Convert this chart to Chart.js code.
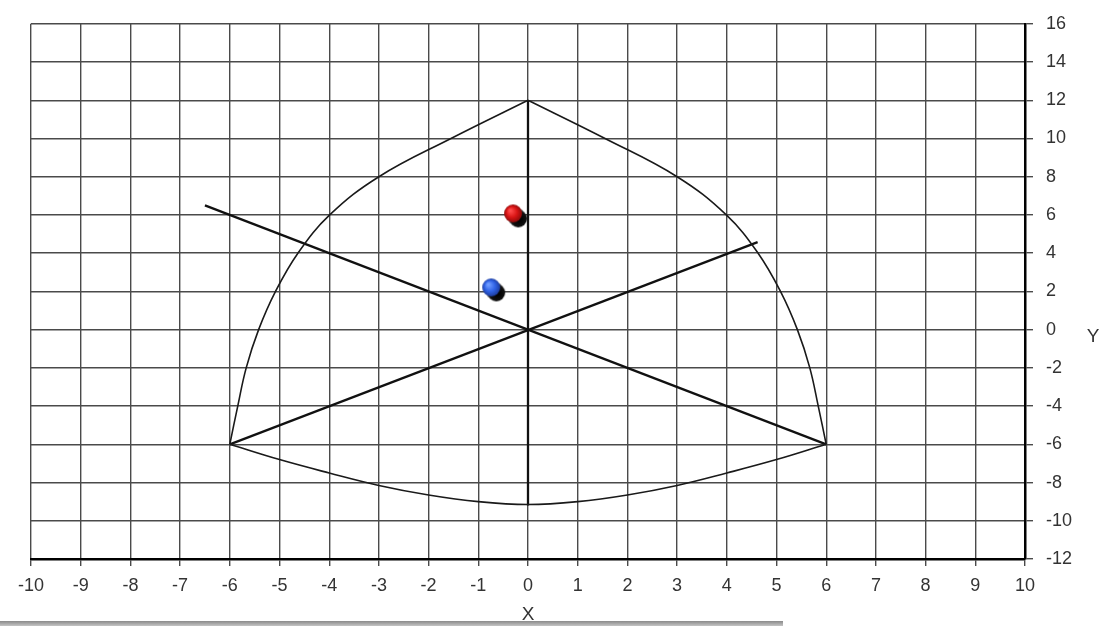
<!DOCTYPE html>
<html><head><meta charset="utf-8">
<script src="https://cdn.jsdelivr.net/npm/chart.js@4.4.1/dist/chart.umd.min.js"></script>
<style>
html,body{margin:0;padding:0;background:#fff;}
#wrap{position:relative;width:1101px;height:626px;overflow:hidden;}
#bar{position:absolute;left:0;top:621px;width:783px;height:5px;background:linear-gradient(#8a8a8a,#c4c4c4);}
</style></head><body>
<div id="wrap"><canvas id="c" width="1101" height="626"></canvas><div id="bar"></div></div>
<script>
// ---- data ----
const xAxisRange = [-10, 10];
const yAxisRange = [-12, 16];
const xTickStep = 1;
const yTickStep = 2;
const xTitle = 'X';
const yTitle = 'Y';

const rightArc = [{x:0,y:12},{x:1.55,y:10},{x:3.0,y:8},{x:3.99,y:6},{x:4.63,y:4},{x:5.08,y:2},{x:5.42,y:0},{x:5.67,y:-2},{x:5.84,y:-4},{x:6,y:-6}];
const leftArc = [{x:-6,y:-6},{x:-5.84,y:-4},{x:-5.67,y:-2},{x:-5.42,y:0},{x:-5.08,y:2},{x:-4.63,y:4},{x:-3.99,y:6},{x:-3.0,y:8},{x:-1.55,y:10},{x:0,y:12}];
const bottomArc = [{x:-6,y:-6},{x:-5,y:-6.8},{x:-4,y:-7.5},{x:-3,y:-8.15},{x:-2,y:-8.65},{x:-1,y:-9.0},{x:0,y:-9.15},{x:1,y:-9.0},{x:2,y:-8.65},{x:3,y:-8.15},{x:4,y:-7.5},{x:5,y:-6.8},{x:6,y:-6}];
const verticalLine = [{x:0,y:12},{x:0,y:-9.2}];
const diagonalDown = [{x:-6.5,y:6.5},{x:6,y:-6}];
const diagonalUp = [{x:-6,y:-6},{x:4.62,y:4.58}];
const redPoint = [{x:-0.30,y:6.08}];
const bluePoint = [{x:-0.74,y:2.21}];

// ---- ball images (shaded sphere with drop shadow) ----
function makeBall(light, mid, dark){
  const r = 9, off = 6, size = 2*(r+off+2);
  const cv = document.createElement('canvas');
  cv.width = size; cv.height = size;
  const g = cv.getContext('2d');
  const c = size/2;
  const sg = g.createRadialGradient(c+off, c+off, 1, c+off, c+off, r);
  sg.addColorStop(0, '#000');
  sg.addColorStop(0.8, '#111');
  sg.addColorStop(1, 'rgba(30,30,30,0.6)');
  g.fillStyle = sg;
  g.beginPath(); g.arc(c+off-1, c+off-1, r, 0, Math.PI*2); g.fill();
  g.beginPath(); g.arc(c+off/2, c+off/2, r, 0, Math.PI*2); g.fill();
  const bg = g.createRadialGradient(c-3, c-3, 1, c, c, r);
  bg.addColorStop(0, light);
  bg.addColorStop(0.55, mid);
  bg.addColorStop(1, dark);
  g.fillStyle = bg;
  g.beginPath(); g.arc(c, c, r, 0, Math.PI*2); g.fill();
  return cv;
}
const redBall = makeBall('#ff4a4a', '#d81414', '#8c0a0a');
const blueBall = makeBall('#6f9bff', '#2f62e6', '#1d3c9c');

const tickFont = {family: '"Liberation Sans", Arial, sans-serif', size: 18};
const tickColor = '#333';
const gridColor = '#4a4a4a';

const yTitlePlugin = {
  id: 'yTitle',
  afterDraw(chart){
    const ctx = chart.ctx, ys = chart.scales.y;
    ctx.save();
    ctx.font = '19px "Liberation Sans", Arial, sans-serif';
    ctx.fillStyle = tickColor;
    ctx.textAlign = 'center';
    ctx.textBaseline = 'middle';
    ctx.fillText(yTitle, ys.right - 8, ys.getPixelForValue(0) + 7);
    ctx.restore();
  }
};

function lineSet(data, width, color, tension){
  return {data, showLine: true, borderColor: color, borderWidth: width, pointRadius: 0, fill: false,
    tension: tension, order: 5};
}

new Chart(document.getElementById('c'), {
  type: 'scatter',
  data: {
    datasets: [
      lineSet(rightArc, 1.6, '#1a1a1a', 0.4),
      lineSet(leftArc, 1.6, '#1a1a1a', 0.4),
      lineSet(bottomArc, 1.6, '#1a1a1a', 0.4),
      lineSet(verticalLine, 2.3, '#111', 0),
      lineSet(diagonalDown, 2.3, '#111', 0),
      lineSet(diagonalUp, 2.3, '#111', 0),
      {data: redPoint, pointStyle: redBall, pointRadius: 9, showLine: false, order: 1},
      {data: bluePoint, pointStyle: blueBall, pointRadius: 9, showLine: false, order: 1}
    ]
  },
  options: {
    responsive: false,
    animation: false,
    devicePixelRatio: 1,
    layout: {padding: {left: 31, top: 22, right: 0, bottom: 0}},
    plugins: {legend: {display: false}, tooltip: {enabled: false}},
    scales: {
      x: {
        type: 'linear', position: 'bottom',
        min: xAxisRange[0], max: xAxisRange[1],
        ticks: {stepSize: xTickStep, autoSkip: false, maxRotation: 0, font: tickFont, color: tickColor, padding: 9},
        grid: {color: gridColor, lineWidth: 1.4, tickLength: 7, tickColor: gridColor},
        border: {display: true, color: '#000', width: 2.5},
        title: {display: true, text: xTitle, font: {family: tickFont.family, size: 19}, color: tickColor, padding: {top: 0, bottom: 0}},
        afterFit(s){ s.height = 67; }
      },
      y: {
        type: 'linear', position: 'right',
        min: yAxisRange[0], max: yAxisRange[1],
        ticks: {stepSize: yTickStep, autoSkip: false, font: tickFont, color: tickColor, padding: 13},
        grid: {color: gridColor, lineWidth: 1.4, tickLength: 8, tickColor: gridColor},
        border: {display: true, color: '#000', width: 2.5},
        afterFit(s){ s.width = 76; }
      }
    }
  },
  plugins: [yTitlePlugin]
});
</script>
</body></html>
